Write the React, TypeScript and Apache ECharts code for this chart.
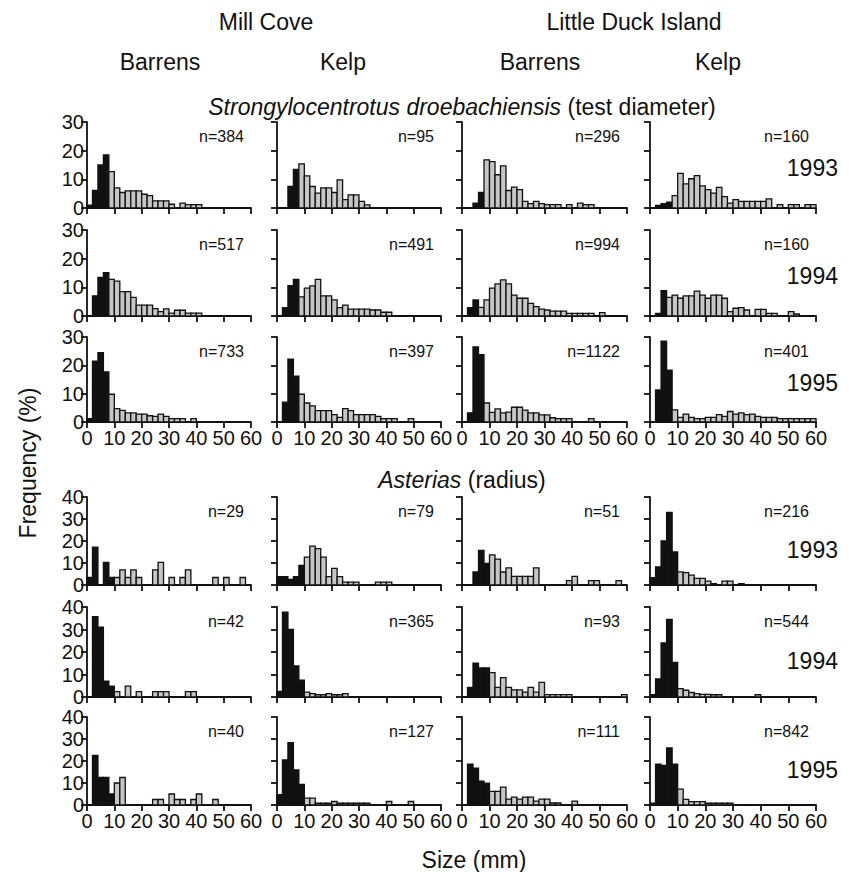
import React, { useEffect, useRef } from "react";
import * as echarts from "echarts";

// ---------- DATA (percent frequency per 2-mm size bin, 0..60 mm) ----------
const BIN_WIDTH = 2;
const X_TICKS = [0, 10, 20, 30, 40, 50, 60];

const sites = ["Mill Cove", "Little Duck Island"];
const habitats = ["Barrens", "Kelp", "Barrens", "Kelp"];
const years = ["1993", "1994", "1995"];

// Strongylocentrotus droebachiensis (test diameter)
const urchinMillBarrens1993 = [1, 6.1, 15, 18.5, 12.7, 7, 5.4, 6, 6, 6, 4.8, 4.3, 2.5, 2.5, 2.5, 1.3, 0, 1.7, 1.2, 1.2, 1.2, 0, 0, 0, 0, 0, 0, 0, 0, 0];
const urchinMillKelp1993 = [0, 0, 7.5, 13.5, 15.4, 11.2, 7.5, 5.2, 7, 7, 5.4, 9.8, 2.9, 4.6, 4.6, 2.3, 1.1, 0, 0, 0, 0, 0, 0, 0, 0, 0, 0, 0, 0, 0];
const urchinDuckBarrens1993 = [0, 0, 1.7, 5.4, 16.8, 16.2, 11.6, 14.7, 6.1, 7.3, 6.4, 2.3, 1.5, 2.3, 1.5, 1.2, 1.2, 1.2, 0, 1.2, 0, 1.7, 1.2, 1.2, 0, 0, 0, 0, 0, 0];
const urchinDuckKelp1993 = [0, 0.9, 1.5, 2, 4.3, 12.1, 8.4, 10.2, 11.3, 7.7, 6.4, 5.2, 7.2, 4, 1.7, 2.9, 2.3, 2.3, 2.3, 2.3, 2.3, 3.2, 0, 1.2, 0, 1.2, 1.2, 0, 1.2, 1.2];
const urchinMillBarrens1994 = [0, 7, 13.5, 15.1, 12.8, 12.2, 8.5, 8.5, 6.5, 3.8, 3.8, 3.8, 2.6, 1.5, 2.5, 1, 2, 2, 1, 1, 1, 0, 0, 0, 0, 0, 0, 0, 0, 0];
const urchinMillKelp1994 = [0, 2.9, 10.6, 12.8, 6.7, 9.7, 10.5, 12.8, 7, 7, 5.6, 2.9, 3.8, 2.4, 2.4, 2.4, 2.4, 2.1, 2.1, 1.3, 1.3, 0, 0, 0, 0, 0, 0, 0, 0, 0];
const urchinDuckBarrens1994 = [0, 2.9, 5.6, 3, 5.6, 9.7, 11.2, 12.6, 11.2, 7.3, 6.2, 6.2, 4.4, 3.3, 2.4, 2.1, 1.7, 1.7, 1.7, 0.9, 0.9, 0.9, 0.9, 0.9, 0, 1.2, 0, 0, 0, 0];
const urchinDuckKelp1994 = [0, 0.9, 8.8, 6.5, 7.3, 6.2, 7, 7, 8.7, 7.3, 6.2, 7.3, 7.3, 6.2, 1.5, 2.7, 2.9, 2.1, 0, 2.3, 2.3, 0.9, 0.9, 0, 0, 1.5, 0.7, 0, 0, 0];
const urchinMillBarrens1995 = [1.2, 21.5, 24.5, 17.7, 9.8, 4.7, 4.1, 3.2, 3.2, 2.8, 2.8, 2.2, 2, 2.8, 2, 1.2, 1.2, 1.2, 0, 1.2, 0, 0, 0, 0, 0, 0, 0, 0, 0, 0];
const urchinMillKelp1995 = [0, 7, 22.2, 16.2, 9.8, 6.7, 5.7, 4, 4, 4, 2.6, 1.6, 4.7, 4, 2.6, 2.6, 2.6, 2.6, 2, 1.2, 1.2, 1.2, 0, 0, 1.2, 0, 0, 0, 0, 0];
const urchinDuckBarrens1995 = [0, 3.2, 26.5, 23.8, 6.7, 3.4, 4.6, 3.2, 3.5, 5.2, 5.2, 4.2, 3.2, 3.2, 2.5, 2.5, 1.5, 1.2, 1.2, 1.2, 0, 0, 0, 1.2, 0, 0, 0, 0, 0, 0];
const urchinDuckKelp1995 = [0, 11.3, 28.5, 18.3, 4.3, 1.6, 2.8, 1.6, 1.2, 1.2, 1.6, 1.6, 2.6, 2, 3.7, 2.8, 3.2, 2.6, 2.8, 2, 1.6, 1.6, 1.6, 1.2, 1.2, 1.2, 1.2, 1.2, 1.2, 1.2];

// Asterias (radius)
const starMillBarrens1993 = [3.4, 17.2, 0, 10.3, 3.4, 3.4, 6.9, 3.4, 6.9, 3.4, 0, 0, 6.9, 10.3, 0, 3.4, 0, 3.4, 6.9, 0, 0, 0, 0, 3.4, 0, 3.4, 0, 0, 3.4, 0];
const starMillKelp1993 = [3.8, 3.8, 2.5, 3.8, 8.9, 12.7, 17.7, 16.5, 12.7, 3.8, 7.6, 3.8, 1.3, 1.3, 1.3, 0, 0, 0, 1.3, 1.3, 1.3, 0, 0, 0, 0, 0, 0, 0, 0, 0];
const starDuckBarrens1993 = [0, 0, 5.9, 15.7, 9.8, 13.7, 11.8, 5.9, 7.8, 3.9, 3.9, 3.9, 3.9, 7.8, 0, 0, 0, 0, 0, 2, 3.9, 0, 0, 2, 2, 0, 0, 0, 2, 0];
const starDuckKelp1993 = [3.3, 8.2, 20, 33, 15, 6, 5.6, 4.5, 3, 3, 1.8, 0.6, 0, 1.8, 1.8, 0, 0.6, 0, 0, 0, 0, 0, 0, 0, 0, 0, 0, 0, 0, 0];
const starMillBarrens1994 = [0, 35.7, 31, 7.1, 4.8, 2.4, 0, 4.8, 0, 2.4, 0, 0, 2.4, 2.4, 2.4, 0, 0, 0, 2.4, 2.4, 0, 0, 0, 0, 0, 0, 0, 0, 0, 0];
const starMillKelp1994 = [2.5, 37.7, 30, 13.8, 7.5, 2.2, 1.5, 1, 1, 1.5, 1, 1, 1.5, 0, 0, 0, 0, 0, 0, 0, 0, 0, 0, 0, 0, 0, 0, 0, 0, 0];
const starDuckBarrens1994 = [0, 4.3, 15.1, 12.9, 12.9, 10.8, 4.3, 8.6, 4.3, 3.2, 3.2, 2.2, 4.3, 2.2, 6.5, 1.1, 1.1, 1.1, 1.1, 1.1, 0, 0, 0, 0, 0, 0, 0, 0, 0, 1.1];
const starDuckKelp1994 = [1, 8, 24, 34.5, 15.4, 3.7, 3, 2, 1.5, 1.2, 1.2, 1, 1, 0, 0, 0, 0, 0, 0, 1, 0, 0, 0, 0, 0, 0, 0, 0, 0, 0];
const starMillBarrens1995 = [0, 22.5, 12.5, 12.5, 5, 10, 12.5, 0, 0, 0, 0, 0, 2.5, 2.5, 0, 5, 2.5, 2.5, 0, 2.5, 5, 0, 0, 2.5, 0, 0, 0, 0, 0, 0];
const starMillKelp1995 = [4.7, 20.5, 28.3, 16, 9.4, 3.1, 3.1, 0.8, 0.8, 0.8, 1.6, 0.8, 0.8, 0.8, 0.8, 0.8, 0.8, 0, 0, 0, 1.6, 0, 0, 0, 1.6, 0, 0, 0, 0, 0];
const starDuckBarrens1995 = [0, 18.6, 16.8, 10.8, 9.9, 6.2, 6.2, 8.1, 2.7, 3.6, 2.7, 3.6, 3.6, 1.8, 2.7, 2.7, 0.9, 0.9, 0, 0, 1.8, 0, 0, 0, 0, 0, 0, 0, 0, 0];
const starDuckKelp1995 = [0.8, 18.6, 18, 25.9, 18.6, 7.2, 2.6, 1.5, 1.5, 1.5, 0.8, 0.8, 0.8, 0.8, 0.8, 0, 0, 0, 0, 0, 0, 0, 0, 0, 0, 0, 0, 0, 0, 0];

const urchinPanels = [
  [urchinMillBarrens1993, urchinMillKelp1993, urchinDuckBarrens1993, urchinDuckKelp1993],
  [urchinMillBarrens1994, urchinMillKelp1994, urchinDuckBarrens1994, urchinDuckKelp1994],
  [urchinMillBarrens1995, urchinMillKelp1995, urchinDuckBarrens1995, urchinDuckKelp1995],
];
const starPanels = [
  [starMillBarrens1993, starMillKelp1993, starDuckBarrens1993, starDuckKelp1993],
  [starMillBarrens1994, starMillKelp1994, starDuckBarrens1994, starDuckKelp1994],
  [starMillBarrens1995, starMillKelp1995, starDuckBarrens1995, starDuckKelp1995],
];
const urchinN = [
  [384, 95, 296, 160],
  [517, 491, 994, 160],
  [733, 397, 1122, 401],
];
const starN = [
  [29, 79, 51, 216],
  [42, 365, 93, 544],
  [40, 127, 111, 842],
];
// number of leading (juvenile) bins drawn black
const urchinBlackBins = [
  [4, 4, 4, 4],
  [4, 4, 3, 3],
  [4, 4, 4, 4],
];
const starBlackBins = [
  [5, 5, 5, 5],
  [5, 5, 5, 5],
  [5, 5, 5, 5],
];
const urchinYMax = 30;
const starYMax = 40;
const Y_INTERVAL = 10;

// ---------- LAYOUT ----------
const W = 849;
const H = 872;
const FONT = '"Liberation Sans", Arial, Helvetica, sans-serif';
const COL_LEFT = [87, 277, 462, 650];
const COL_WIDTH = [164, 164, 165, 166];
const ROW_TOP = [122, 230, 337, 497, 607, 717];
const ROW_HEIGHT = [86, 86, 85, 88, 90, 88];
const INK = "#111";
const GRAY = "#c6c6c6";

function buildOption() {
  const grid: any[] = [];
  const xAxis: any[] = [];
  const yAxis: any[] = [];
  const series: any[] = [];
  const graphic: any[] = [];

  const allRows = [
    ...urchinPanels.map((r, i) => ({ vals: r, n: urchinN[i], blk: urchinBlackBins[i], ymax: urchinYMax, year: years[i] })),
    ...starPanels.map((r, i) => ({ vals: r, n: starN[i], blk: starBlackBins[i], ymax: starYMax, year: years[i] })),
  ];

  allRows.forEach((row, ri) => {
    row.vals.forEach((vals: number[], ci: number) => {
      const idx = grid.length;
      grid.push({
        left: COL_LEFT[ci],
        top: ROW_TOP[ri],
        width: COL_WIDTH[ci],
        height: ROW_HEIGHT[ri],
        containLabel: false,
      });
      const axisLine = { show: true, lineStyle: { color: INK, width: 1.8 } };
      const axisTick = { show: true, length: 6, inside: false, lineStyle: { color: INK, width: 1.8 } };
      xAxis.push({
        type: "value",
        gridIndex: idx,
        min: X_TICKS[0],
        max: X_TICKS[X_TICKS.length - 1],
        interval: 10,
        axisLine,
        axisTick,
        splitLine: { show: false },
        axisLabel: {
          show: ri === 2 || ri === 5,
          fontSize: 20,
          color: INK,
          fontFamily: FONT,
          margin: 6,
        },
      });
      yAxis.push({
        type: "value",
        gridIndex: idx,
        min: 0,
        max: row.ymax,
        interval: Y_INTERVAL,
        axisLine,
        axisTick,
        splitLine: { show: false },
        axisLabel: {
          show: ci === 0,
          fontSize: 20,
          color: INK,
          fontFamily: FONT,
          margin: 3,
        },
      });
      const black = row.blk[ci];
      series.push({
        type: "custom",
        xAxisIndex: idx,
        yAxisIndex: idx,
        encode: { x: [0, 1], y: 2 },
        data: vals.map((v, i) => [i * BIN_WIDTH, (i + 1) * BIN_WIDTH, v, i < black ? 1 : 0]),
        renderItem: (params: any, api: any) => {
          const v = api.value(2);
          if (!(v > 0)) return null;
          const p0 = api.coord([api.value(0), v]);
          const p1 = api.coord([api.value(1), 0]);
          return {
            type: "rect",
            shape: { x: p0[0], y: p0[1], width: p1[0] - p0[0], height: p1[1] - p0[1] },
            style: {
              fill: api.value(3) ? INK : GRAY,
              stroke: INK,
              lineWidth: 1.3,
            },
          };
        },
      });
      graphic.push({
        type: "text",
        x: COL_LEFT[ci] + COL_WIDTH[ci] - 7,
        y: ROW_TOP[ri] + 14,
        style: {
          text: "n=" + row.n[ci],
          font: `16px ${FONT}`,
          fill: INK,
          textAlign: "right",
          textVerticalAlign: "middle",
        },
      });
    });
    graphic.push({
      type: "text",
      x: 838,
      y: ROW_TOP[ri] + ROW_HEIGHT[ri] * (ri < 3 ? 0.54 : 0.6),
      style: {
        text: row.year,
        font: `23px ${FONT}`,
        fill: INK,
        textAlign: "right",
        textVerticalAlign: "middle",
      },
    });
  });

  const headerStyle = (text: string) => ({
    text,
    font: `23px ${FONT}`,
    fill: INK,
    textAlign: "center",
    textVerticalAlign: "middle",
  });
  graphic.push({ type: "text", x: 266, y: 22, style: headerStyle(sites[0]) });
  graphic.push({ type: "text", x: 634, y: 22, style: headerStyle(sites[1]) });
  const habX = [160, 343, 540, 718];
  habitats.forEach((h, i) => graphic.push({ type: "text", x: habX[i], y: 62, style: headerStyle(h) }));

  const italicRich = { i: { fontStyle: "italic", fontSize: 23, fontFamily: FONT, fill: INK } };
  graphic.push({
    type: "text",
    x: 462,
    y: 107,
    style: {
      text: "{i|Strongylocentrotus droebachiensis} (test diameter)",
      font: `23px ${FONT}`,
      fill: INK,
      textAlign: "center",
      textVerticalAlign: "middle",
      rich: italicRich,
    },
  });
  graphic.push({
    type: "text",
    x: 462,
    y: 480,
    style: {
      text: "{i|Asterias} (radius)",
      font: `23px ${FONT}`,
      fill: INK,
      textAlign: "center",
      textVerticalAlign: "middle",
      rich: italicRich,
    },
  });
  graphic.push({
    type: "text",
    x: 28,
    y: 463,
    rotation: Math.PI / 2,
    style: headerStyle("Frequency (%)"),
  });
  graphic.push({ type: "text", x: 474, y: 860, style: headerStyle("Size (mm)") });

  return {
    animation: false,
    backgroundColor: "#fff",
    textStyle: { fontFamily: FONT },
    grid,
    xAxis,
    yAxis,
    series,
    graphic,
  };
}

export default function App() {
  const ref = useRef<HTMLDivElement>(null);
  useEffect(() => {
    document.body.style.margin = "0";
    if (!ref.current) return;
    const chart = echarts.init(ref.current, undefined, { renderer: "svg", width: W, height: H });
    chart.setOption(buildOption() as any);
    return () => chart.dispose();
  }, []);
  return <div ref={ref} style={{ width: W, height: H }} />;
}
